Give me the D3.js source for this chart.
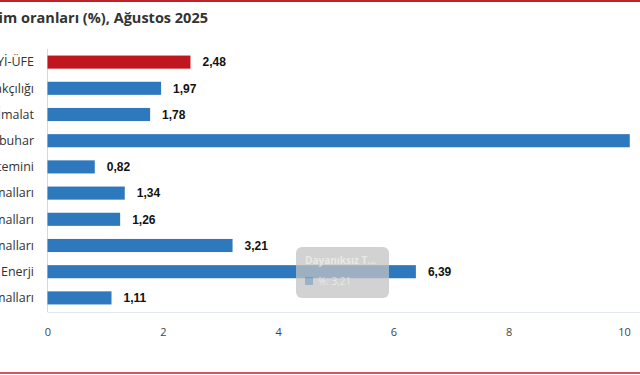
<!DOCTYPE html>
<html><head><meta charset="utf-8">
<script src="https://cdn.jsdelivr.net/npm/d3@7"></script>
<style>body{margin:0;background:#fff}svg{display:block;font-family:"Open Sans",Arial,sans-serif}</style>
</head><body>
<svg id="c" width="640" height="375"></svg>
<script>
const categories = ["Yİ-ÜFE","Madencilik ve taşocakçılığı","İmalat","Elektrik, gaz, buhar","Su temini","Ara malları","Dayanıklı tüketim malları","Dayanıksız tüketim malları","Enerji","Sermaye malları"];
const values = [2.48,1.97,1.78,10.10,0.82,1.34,1.26,3.21,6.39,1.11];
const highlight = [true,false,false,false,false,false,false,false,false,false];
const xTicks = [0,2,4,6,8,10];
const title = "Yİ-ÜFE ana sanayi gruplarının aylık değişim oranları (%), Ağustos 2025";

const svg = d3.select("#c");
const x = d3.scaleLinear().domain([0,10]).range([47.5,624]);
const y = d3.scaleBand().domain(categories).range([49,311]).paddingInner(0.5).paddingOuter(0.25);
const fmt = v => d3.format(".2f")(v).replace(".", ",");

svg.append("rect").attr("x",0).attr("y",0).attr("width",640).attr("height",2).attr("fill","#c0202a");
svg.append("rect").attr("x",0).attr("y",372).attr("width",640).attr("height",2).attr("fill","#d0575e");

svg.append("text").attr("x",208).attr("y",23).attr("text-anchor","end")
  .attr("font-size",14.5).attr("font-weight","bold").attr("fill","#333").text(title);

// axis lines
svg.append("line").attr("x1",x(0)).attr("x2",x(0)).attr("y1",49).attr("y2",312).attr("stroke","#d8d8d8");
svg.append("line").attr("x1",x(0)).attr("x2",640).attr("y1",312.5).attr("y2",312.5).attr("stroke","#e3e8f0");

const xAxis = d3.axisBottom(x).tickValues(xTicks).tickSize(0).tickPadding(0).tickFormat(d=>d);
const gx = svg.append("g").attr("transform","translate(0,328)").call(xAxis);
gx.select(".domain").remove();
gx.selectAll("text").attr("font-size",11).attr("fill","#444").attr("dy","0.71em").attr("font-family","Open Sans, Arial, sans-serif");

svg.append("g").selectAll("rect").data(categories).join("rect")
  .attr("x",x(0)).attr("y",d=>y(d)).attr("height",y.bandwidth())
  .attr("width",(d,i)=>x(values[i])-x(0))
  .attr("fill",(d,i)=>highlight[i]?"#c0161f":"#2e78be");

svg.append("g").selectAll("text").data(categories).join("text")
  .attr("x",34).attr("y",d=>y(d)+y.bandwidth()/2).attr("dy","0.35em")
  .attr("text-anchor","end").attr("font-size",12.5).attr("fill","#333").text(d=>d);

svg.append("g").selectAll("text").data(categories).join("text")
  .attr("x",(d,i)=>x(values[i])+12).attr("y",d=>y(d)+y.bandwidth()/2).attr("dy","0.35em")
  .attr("font-size",12).attr("font-weight","bold").attr("fill","#111").attr("font-family","Arial, Liberation Sans, sans-serif")
  .text((d,i)=>fmt(values[i]));

// faint tooltip overlay
const tip = svg.append("g").attr("transform","translate(296,247)");
tip.append("rect").attr("width",93).attr("height",51).attr("rx",6).attr("fill","rgba(195,195,195,0.75)");
tip.append("text").attr("x",9).attr("y",17).attr("font-size",10).attr("font-weight","bold").attr("fill","rgba(255,255,255,0.5)").text("Dayanıksız T...");
tip.append("rect").attr("x",9).attr("y",30).attr("width",8).attr("height",8).attr("fill","rgba(46,120,190,0.35)");
tip.append("text").attr("x",22).attr("y",38).attr("font-size",10).attr("fill","rgba(255,255,255,0.5)").text("%: 3,21");
</script>
</body></html>
